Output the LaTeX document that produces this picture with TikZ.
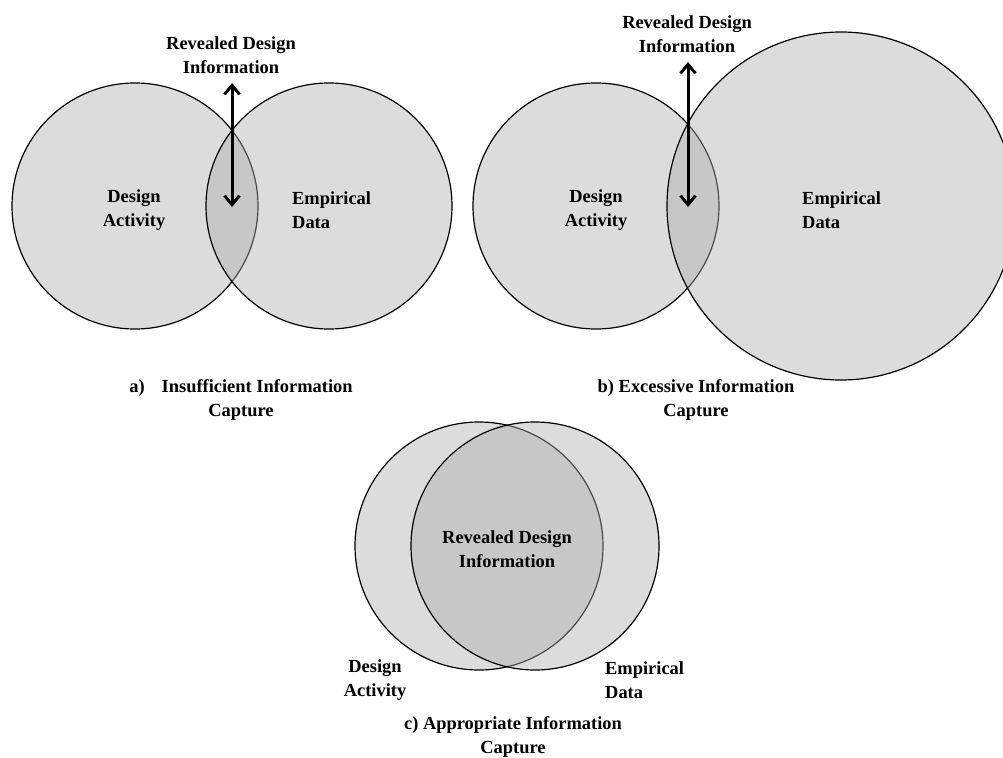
\documentclass[tikz,border=0pt]{standalone}
\usepackage{fontspec}
\setmainfont{Liberation Serif}
\usetikzlibrary{arrows.meta}

\begin{document}
\begin{tikzpicture}[x=1bp,y=-1bp,
    venn/.style={draw=black, line width=1.2bp, fill=black!32, fill opacity=0.43},
    lbl/.style={font=\bfseries\fontsize{18.5}{24}\selectfont, inner sep=0pt, align=center},
    lblleft/.style={lbl, align=left, anchor=west},
    updown/.style={{Straight Barb[length=9bp,width=15bp,line width=3bp]}-{Straight Barb[length=9bp,width=15bp,line width=3bp]}, line width=3bp}]
    \useasboundingbox (0,0) rectangle (1003,758);
    % a) insufficient
    \draw[venn] (135,206) circle[radius=123bp];
    \draw[venn] (329,206) circle[radius=123bp];
    \node[lbl] (atitle) at (231,55) {Revealed Design\\Information};
    \node[lbl] (adesign) at (134,210) {Design\\Activity};
    \node[lblleft] (adata) at (292,210) {Empirical\\Data};
    \coordinate (atop) at (232,83);
    \coordinate (abot) at (232,207);
    \draw[updown] (atop) -- (abot);
    \node[lbl] (acap) at (241,400) {a)\hspace{17bp}Insufficient Information\\Capture};
    % b) excessive
    \draw[venn] (596,206) circle[radius=123bp];
    \draw[venn] (841,206) circle[radius=174bp];
    \node[lbl] (btitle) at (687,34) {Revealed Design\\Information};
    \node[lbl] (bdesign) at (596,210) {Design\\Activity};
    \node[lblleft] (bdata) at (802,210) {Empirical\\Data};
    \coordinate (btop) at (688,62);
    \coordinate (bbot) at (688,207);
    \draw[updown] (btop) -- (bbot);
    \node[lbl] (bcap) at (696,400) {b) Excessive Information\\Capture};
    % c) appropriate
    \draw[venn] (479,546) circle[radius=124bp];
    \draw[venn] (535,546) circle[radius=124bp];
    \node[lbl] (crevealed) at (507,549) {Revealed Design\\Information};
    \node[lbl] (cdesign) at (375,680) {Design\\Activity};
    \node[lblleft] (cdata) at (605,680) {Empirical\\Data};
    \node[lbl] (ccap) at (513,737) {c) Appropriate Information\\Capture};
\end{tikzpicture}
\end{document}
